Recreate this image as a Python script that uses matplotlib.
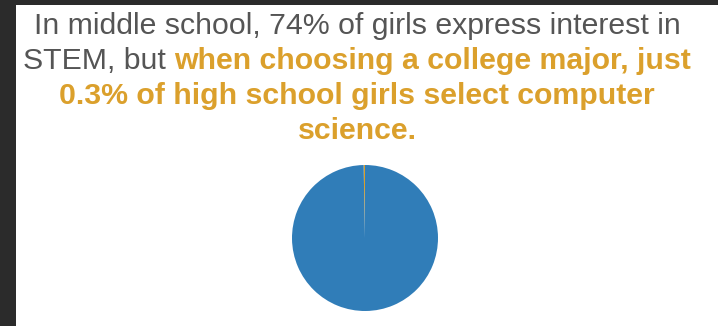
import matplotlib
matplotlib.use("Agg")
from matplotlib import pyplot as plt
from matplotlib.patches import Rectangle

# data
labels = ["Computer science", "Other majors"]
shares = [0.3, 99.7]
colors = ["#D99F2B", "#307DB8"]

gray = "#555555"
gold = "#DBA02C"
title_lines = [
    [("In middle school, 74% of girls express interest in", gray, "normal")],
    [("STEM, but ", gray, "normal"), ("when choosing a college major, just", gold, "bold")],
    [("0.3% of high school girls select computer", gold, "bold")],
    [("science.", gold, "bold")],
]

W, H = 718, 326
fig = plt.figure(figsize=(W / 100, H / 100), dpi=100)
fig.patch.set_facecolor("#2b2b2b")
fig.patches.append(Rectangle((16 / W, 0), 1 - 16 / W, 1 - 5 / H, transform=fig.transFigure,
                             facecolor="white", edgecolor="none", zorder=-1))

ax = fig.add_axes([(365 - 73) / W, (H - 238 - 73) / H, 146 / W, 146 / H], zorder=2)
ax.pie(shares, colors=colors, startangle=90, wedgeprops=dict(linewidth=0))
ax.set_xlim(-1, 1)
ax.set_ylim(-1, 1)
ax.set_aspect("equal")
ax.axis("off")

# title, drawn piece by piece so colours can change mid line
fig.canvas.draw()
r = fig.canvas.get_renderer()
baselines = [34.5, 69, 104, 139]
cx = 357
for line, yb in zip(title_lines, baselines):
    texts = []
    for s, c, w in line:
        t = fig.text(0, 1 - yb / H, s, color=c, fontweight=w, fontsize=21.8,
                     family="Liberation Sans", va="baseline", ha="left", zorder=3)
        texts.append(t)
    widths = [t.get_window_extent(r).width for t in texts]
    x = cx - sum(widths) / 2
    for t, wd in zip(texts, widths):
        t.set_x(x / W)
        x += wd

fig.savefig("out.png", dpi=100, facecolor=fig.get_facecolor())
